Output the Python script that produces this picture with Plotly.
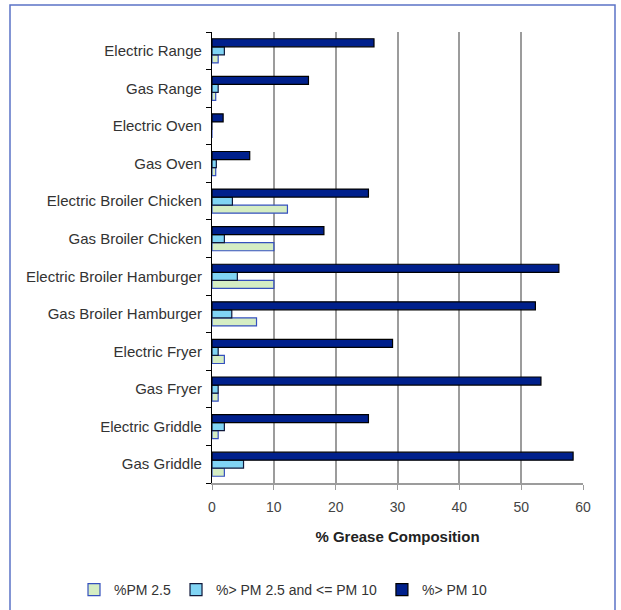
import plotly.graph_objects as go

categories = [
    "Electric Range", "Gas Range", "Electric Oven", "Gas Oven",
    "Electric Broiler Chicken", "Gas Broiler Chicken",
    "Electric Broiler Hamburger", "Gas Broiler Hamburger",
    "Electric Fryer", "Gas Fryer", "Electric Griddle", "Gas Griddle",
]
pm25 = [1.0, 0.6, 0.0, 0.6, 12.2, 10.0, 10.0, 7.2, 2.0, 1.0, 1.0, 2.0]
pm25_10 = [2.0, 1.0, 0.0, 0.7, 3.3, 2.0, 4.1, 3.2, 1.0, 1.0, 2.0, 5.1]
pm10 = [26.2, 15.6, 1.8, 6.1, 25.3, 18.1, 56.1, 52.3, 29.2, 53.2, 25.3, 58.4]
series_names = ["%PM 2.5", "%> PM 2.5 and <= PM 10", "%> PM 10"]
x_ticks = [0, 10, 20, 30, 40, 50, 60]

W, H = 621, 610
L, R, T, B = 212, 38, 32, 127
pw, ph = W - L - R, H - T - B

def px(xp):
    return (xp - L) / pw

def py(yp):
    return (H - B - yp) / ph

fig = go.Figure()
styles = [
    ("#D5EDC3", "#3550BE"),
    ("#80D4F4", "#10183A"),
    ("#00208C", "#000000"),
]
for name, vals, (fc, lc) in zip(series_names, [pm25, pm25_10, pm10], styles):
    fig.add_trace(go.Bar(
        y=categories, x=vals, name=name, orientation="h",
        marker=dict(color=fc, line=dict(color=lc, width=1.2)),
    ))

font_fam = "Liberation Sans, Arial, sans-serif"
fig.update_layout(
    width=W, height=H,
    margin=dict(l=L, r=R, t=T, b=B, autoexpand=False),
    paper_bgcolor="white", plot_bgcolor="white",
    barmode="group", bargap=0.36, bargroupgap=0,
    font=dict(family=font_fam, size=14, color="#333333"),
    showlegend=True,
    legend=dict(
        orientation="h", x=px(74), xanchor="left", y=py(590), yanchor="middle",
        font=dict(size=14, color="#333333"), itemwidth=30,
        tracegroupgap=0, bgcolor="rgba(0,0,0,0)",
    ),
    xaxis=dict(
        range=[0, 60], tickvals=x_ticks, ticktext=[str(v) for v in x_ticks],
        showgrid=True, gridcolor="#9c9c9c", gridwidth=1.5,
        showline=True, linecolor="#9c9c9c", linewidth=1.5,
        ticks="outside", ticklen=5, tickcolor="#9c9c9c",
        tickfont=dict(size=14, color="#444444"), ticklabelstandoff=5,
        zeroline=False,
        title=dict(text="<b>% Grease Composition</b>", standoff=18,
                   font=dict(size=15, color="#222222")),
    ),
    yaxis=dict(
        categoryorder="array", categoryarray=list(reversed(categories)),
        showline=True, linecolor="#000000", linewidth=1.2,
        ticks="outside", ticklen=5, tickcolor="#000000", tickson="boundaries",
        tickfont=dict(size=15, color="#333333"), ticklabelstandoff=6,
        showgrid=False,
    ),
    shapes=[dict(
        type="rect", xref="paper", yref="paper",
        x0=px(10), x1=px(615), y0=py(650), y1=py(5),
        line=dict(color="#5B73C6", width=1.5), fillcolor="rgba(0,0,0,0)",
        layer="below",
    )],
)

fig.write_html("out.html")
